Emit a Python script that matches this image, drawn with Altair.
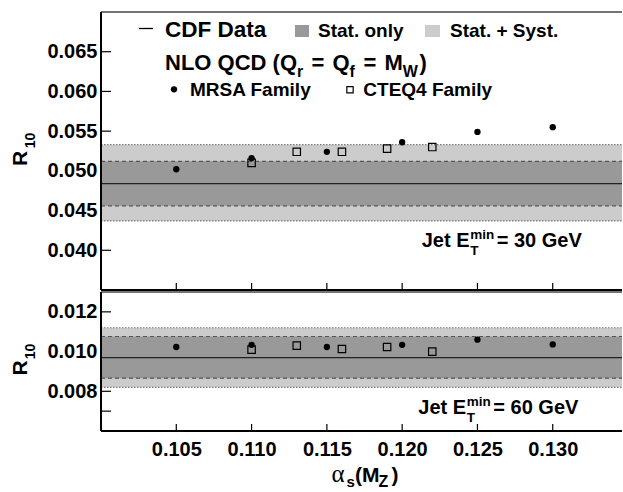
import altair as alt
import pandas as pd

# ---------------- data ----------------
alpha_mrsa = [0.105, 0.110, 0.115, 0.120, 0.125, 0.130]
r10_mrsa_30 = [0.0502, 0.0516, 0.0524, 0.0536, 0.0549, 0.0555]
r10_mrsa_60 = [0.01023, 0.01034, 0.01023, 0.01034, 0.0106, 0.01036]

alpha_cteq = [0.110, 0.113, 0.116, 0.119, 0.122]
r10_cteq_30 = [0.0510, 0.0524, 0.0524, 0.0528, 0.0530]
r10_cteq_60 = [0.0101, 0.0103, 0.01013, 0.01023, 0.0100]

cdf_30 = [0.0484]
stat_30 = [0.0456, 0.0512]
syst_30 = [0.0437, 0.0533]

cdf_60 = [0.0097]
stat_60 = [0.00866, 0.01076]
syst_60 = [0.0082, 0.0112]

x_domain = [0.100, 0.1346]
x_ticks = [0.105, 0.110, 0.115, 0.120, 0.125, 0.130]
y_domain_30 = [0.035, 0.070]
y_ticks_30 = [0.040, 0.045, 0.050, 0.055, 0.060, 0.065]
y_labels_30 = [0.040, 0.045, 0.050, 0.055, 0.060, 0.065]
y_domain_60 = [0.006, 0.013]
y_ticks_60 = [0.007, 0.008, 0.009, 0.010, 0.011, 0.012]
y_labels_60 = [0.008, 0.010, 0.012]

# ---------------- style ----------------
FONT = "Liberation Sans"
SERIF = "Liberation Serif"
W = 521
H1, H2 = 278, 139
LIGHT = "#cccccc"
DARK = "#999999"
ONE = pd.DataFrame({"k": [0]})


def txt(text, size, x, y, family=FONT, weight="bold", align="left"):
    return alt.Chart(ONE).mark_text(
        text=text, font=family, fontSize=size, fontWeight=weight,
        align=align, baseline="alphabetic", color="black",
    ).encode(x=alt.value(x), y=alt.value(y))


def rot_text(text, size, x, y):
    return alt.Chart(ONE).mark_text(
        text=text, font=FONT, fontSize=size, fontWeight="bold", angle=270,
        align="center", baseline="alphabetic", color="black",
    ).encode(x=alt.value(x), y=alt.value(y))


def panel(h, ydom, cdf, stat, syst, mrsa, cteq, yticks, ylabels, show_x, extra):
    xs = alt.Scale(domain=x_domain, nice=False, zero=False)
    ys = alt.Scale(domain=ydom, nice=False, zero=False)
    yaxis = alt.Axis(values=ylabels, format=".3f", domain=False, ticks=False,
                     grid=False, title=None, labelFont=FONT, labelFontSize=20,
                     labelFontWeight="bold", labelColor="black", labelPadding=4)
    if show_x:
        xaxis = alt.Axis(values=x_ticks, format=".3f", domain=False, ticks=False,
                         grid=False, title=None, labelFont=FONT, labelFontSize=20,
                         labelFontWeight="bold", labelColor="black", labelPadding=8)
    else:
        xaxis = None

    def X(f):
        return alt.X(f, type="quantitative", scale=xs, axis=xaxis)

    def Y(f):
        return alt.Y(f, type="quantitative", scale=ys, axis=yaxis)

    tick_y = alt.Chart(pd.DataFrame({"v": yticks})).mark_rule(
        color="black", strokeWidth=1.2).encode(
        y=Y("v"), x=alt.value(0), x2=alt.value(10))
    tick_x = alt.Chart(pd.DataFrame({"v": x_ticks})).mark_rule(
        color="black", strokeWidth=1.2).encode(
        x=X("v"), y=alt.value(h - 7), y2=alt.value(h))

    band = pd.DataFrame({"s_lo": [syst[0]], "s_hi": [syst[1]],
                         "t_lo": [stat[0]], "t_hi": [stat[1]], "c": cdf})
    syst_rect = alt.Chart(band).mark_rect(color=LIGHT).encode(
        y=Y("s_lo"), y2="s_hi", x=alt.value(0), x2=alt.value(W))
    stat_rect = alt.Chart(band).mark_rect(color=DARK).encode(
        y=Y("t_lo"), y2="t_hi", x=alt.value(0), x2=alt.value(W))
    syst_lines = alt.Chart(pd.DataFrame({"v": syst})).mark_rule(
        color="#777777", strokeWidth=1.2, strokeDash=[1.5, 1.5]).encode(
        y=Y("v"), x=alt.value(0), x2=alt.value(W))
    stat_lines = alt.Chart(pd.DataFrame({"v": stat})).mark_rule(
        color="#555555", strokeWidth=1.2, strokeDash=[4, 3]).encode(
        y=Y("v"), x=alt.value(0), x2=alt.value(W))
    cdf_line = alt.Chart(band).mark_rule(color="#222222", strokeWidth=1.3).encode(
        y=Y("c"), x=alt.value(0), x2=alt.value(W))

    sq = alt.Chart(pd.DataFrame({"a": alpha_cteq, "r": cteq})).mark_point(
        shape="square", filled=False, size=55, color="black", strokeWidth=1.2,
        opacity=1).encode(x=X("a"), y=Y("r"))
    circ = alt.Chart(pd.DataFrame({"a": alpha_mrsa, "r": mrsa})).mark_point(
        shape="circle", filled=True, size=40, color="black", opacity=1).encode(
        x=X("a"), y=Y("r"))

    border_top = alt.Chart(ONE).mark_rule(color="#444444", strokeWidth=1.5).encode(
        y=alt.value(0), x=alt.value(0), x2=alt.value(W))
    border_bot = alt.Chart(ONE).mark_rule(color="black", strokeWidth=2).encode(
        y=alt.value(h), x=alt.value(0), x2=alt.value(W))
    border_left = alt.Chart(ONE).mark_rule(color="black", strokeWidth=2).encode(
        x=alt.value(0), y=alt.value(0), y2=alt.value(h))

    layers = [tick_y, tick_x, syst_rect, stat_rect, syst_lines, stat_lines,
              cdf_line, sq, circ, border_top, border_bot, border_left] + extra
    return alt.layer(*layers).properties(width=W, height=h)


def jet_label(energy, x0, base):
    return [
        txt("Jet E", 20, x0, base),
        txt("min", 13.5, x0 + 48.5, base - 8.5),
        txt("T", 13.5, x0 + 48.5, base + 8),
        txt("= " + energy + " GeV", 20, x0 + 75, base),
    ]


# ---------------- annotations ----------------
top_extra = []
# legend row 1
top_extra.append(alt.Chart(ONE).mark_rule(color="black", strokeWidth=1.3).encode(
    x=alt.value(38), x2=alt.value(52), y=alt.value(16.5)))
top_extra.append(txt("CDF Data", 22.5, 64, 25))
top_extra.append(alt.Chart(ONE).mark_rect(color=DARK).encode(
    x=alt.value(194), x2=alt.value(208), y=alt.value(13), y2=alt.value(25)))
top_extra.append(txt("Stat. only", 19, 217, 25))
top_extra.append(alt.Chart(ONE).mark_rect(color=LIGHT).encode(
    x=alt.value(324), x2=alt.value(339), y=alt.value(13), y2=alt.value(25)))
top_extra.append(txt("Stat. + Syst.", 19, 349, 25))
# legend row 2 : NLO QCD (Q_r = Q_f = M_W)
base2 = 57.5
top_extra += [
    txt("NLO QCD (Q", 22, 64, base2),
    txt("r", 16, 196, base2 + 7),
    txt("=", 22, 210.5, base2),
    txt("Q", 22, 231.5, base2),
    txt("f", 16, 248.6, base2 + 7),
    txt("=", 22, 262.5, base2),
    txt("M", 22, 283.5, base2),
    txt("W", 16, 301.8, base2 + 7),
    txt(")", 22, 318.5, base2),
]
# legend row 3
top_extra.append(alt.Chart(ONE).mark_point(
    shape="circle", filled=True, size=40, color="black", opacity=1).encode(
    x=alt.value(73), y=alt.value(77.3)))
top_extra.append(txt("MRSA Family", 19, 89, 83.5))
top_extra.append(alt.Chart(ONE).mark_point(
    shape="square", filled=False, size=40, color="black", strokeWidth=1.2,
    opacity=1).encode(x=alt.value(249), y=alt.value(77.7)))
top_extra.append(txt("CTEQ4 Family", 19, 262.3, 83.5))
# jet label
top_extra += jet_label("30", 320.7, 235)
# y title
top_extra.append(rot_text("R", 21, -74, 146.5))
top_extra.append(rot_text("10", 14, -66.5, 128.5))

bot_extra = []
bot_extra += jet_label("60", 317.3, 122)
bot_extra.append(rot_text("R", 21, -74, 76))
bot_extra.append(rot_text("10", 14, -66.5, 59.5))
bot_extra += [
    txt("α", 25, 230.5, 190, family=SERIF, weight="normal"),
    txt("s", 15, 245.5, 195),
    txt("(M", 21, 254, 190),
    txt("Z", 16, 277.5, 195),
    txt(")", 21, 290.5, 190),
]

top = panel(H1, y_domain_30, cdf_30, stat_30, syst_30, r10_mrsa_30, r10_cteq_30,
            y_ticks_30, y_labels_30, False, top_extra)
bottom = panel(H2, y_domain_60, cdf_60, stat_60, syst_60, r10_mrsa_60, r10_cteq_60,
               y_ticks_60, y_labels_60, True, bot_extra)

chart = alt.vconcat(top, bottom, spacing=0).properties(
    padding={"left": 10, "top": 11, "right": 0, "bottom": 0},
    background="white",
).configure_view(strokeWidth=0)

chart.save("out.html", embed_options={"renderer": "svg", "actions": False})
